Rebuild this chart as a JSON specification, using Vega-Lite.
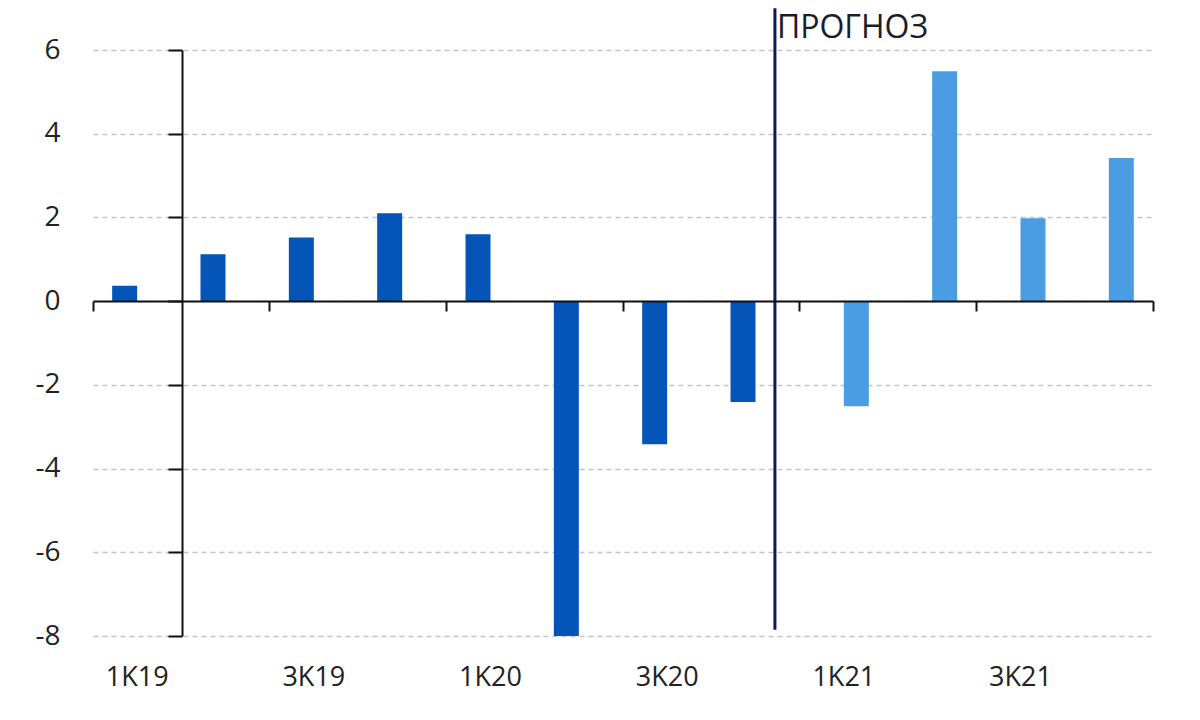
{
  "$schema": "https://vega.github.io/schema/vega-lite/v6.json",
  "autosize": {"type": "none"},
  "padding": {"left": 93, "top": 50, "right": 47, "bottom": 84},
  "width": 1060,
  "height": 586,
  "background": "white",
  "config": {"view": {"stroke": null}, "font": "Open Sans"},
  "datasets": {
    "gdp": [
      {"q": "1K19", "v": 0.37, "series": "hist"},
      {"q": "2K19", "v": 1.12, "series": "hist"},
      {"q": "3K19", "v": 1.52, "series": "hist"},
      {"q": "4K19", "v": 2.1, "series": "hist"},
      {"q": "1K20", "v": 1.6, "series": "hist"},
      {"q": "2K20", "v": -8, "series": "hist"},
      {"q": "3K20", "v": -3.42, "series": "hist"},
      {"q": "4K20", "v": -2.41, "series": "hist"},
      {"q": "1K21", "v": -2.51, "series": "fcst"},
      {"q": "2K21", "v": 5.49, "series": "fcst"},
      {"q": "3K21", "v": 1.98, "series": "fcst"},
      {"q": "4K21", "v": 3.42, "series": "fcst"}
    ],
    "marker": [
      {"q": "4K20", "top": 7, "bottom": -7.85, "label": "ПРОГНОЗ", "labelY": 6.28}
    ]
  },
  "layer": [
    {
      "data": {"name": "gdp"},
      "mark": {"type": "bar"},
      "encoding": {
        "x": {
          "field": "q", "type": "nominal",
          "scale": {"domain": ["1K19","2K19","3K19","4K19","1K20","2K20","3K20","4K20","1K21","2K21","3K21","4K21"], "paddingInner": 0, "paddingOuter": 0},
          "axis": {"orient": "bottom", "values": ["1K19","3K19","1K20","3K20","1K21","3K21"], "domain": false, "ticks": false, "grid": false, "labelAngle": 0, "labelFontSize": 27, "labelColor": "#222222", "labelPadding": 28, "title": null}
        },
        "xOffset": {
          "field": "series", "type": "nominal",
          "scale": {"domain": ["hist", "fcst"], "paddingInner": 0, "paddingOuter": 0.767}
        },
        "y": {
          "field": "v", "type": "quantitative",
          "scale": {"domain": [-8, 6], "nice": false},
          "axis": {"orient": "left", "values": [-8,-6,-4,-2,0,2,4,6], "labelExpr": "datum.value + ''", "domain": false, "ticks": false, "grid": true, "gridDash": [5, 4], "gridColor": "#c4c4c4", "gridWidth": 1.5, "labelFontSize": 28, "labelColor": "#222222", "labelPadding": 33, "title": null}
        },
        "color": {
          "field": "series", "type": "nominal",
          "scale": {"domain": ["hist", "fcst"], "range": ["#0455b7", "#4a9de2"]},
          "legend": null
        }
      }
    },
    {
      "data": {"name": "marker"},
      "mark": {"type": "rule", "color": "#0b1a5a", "strokeWidth": 3},
      "encoding": {
        "x": {
          "field": "q", "type": "nominal", "bandPosition": 0.72,
          "axis": {"orient": "bottom", "offset": -335, "values": ["1K19","3K19","1K20","3K20","1K21","3K21"], "bandPosition": 0, "labels": false, "domain": true, "domainColor": "#111111", "domainWidth": 2, "ticks": true, "tickSize": 10, "tickWidth": 2, "tickColor": "#111111", "grid": false, "title": null, "zindex": 1}
        },
        "y": {
          "field": "top", "type": "quantitative",
          "axis": {"orient": "left", "offset": -89, "values": [-8,-6,-4,-2,0,2,4,6], "labels": false, "domain": true, "domainColor": "#111111", "domainWidth": 2, "ticks": true, "tickSize": 14, "tickWidth": 2, "tickColor": "#111111", "grid": false, "title": null, "zindex": 1}
        },
        "y2": {"field": "bottom"}
      }
    },
    {
      "data": {"name": "marker"},
      "mark": {"type": "text", "align": "left", "baseline": "alphabetic", "dx": 2, "fontSize": 32, "color": "#1c1c2c"},
      "encoding": {
        "x": {
          "field": "q", "type": "nominal", "bandPosition": 0.72,
          "axis": {"orient": "bottom", "offset": -335, "values": ["4K21"], "bandPosition": 1, "labels": false, "domain": false, "ticks": true, "tickSize": 10, "tickWidth": 2, "tickColor": "#111111", "grid": false, "title": null, "zindex": 1}
        },
        "y": {"field": "labelY", "type": "quantitative", "axis": null},
        "text": {"field": "label"}
      }
    }
  ],
  "resolve": {"axis": {"x": "independent", "y": "independent"}}
}
